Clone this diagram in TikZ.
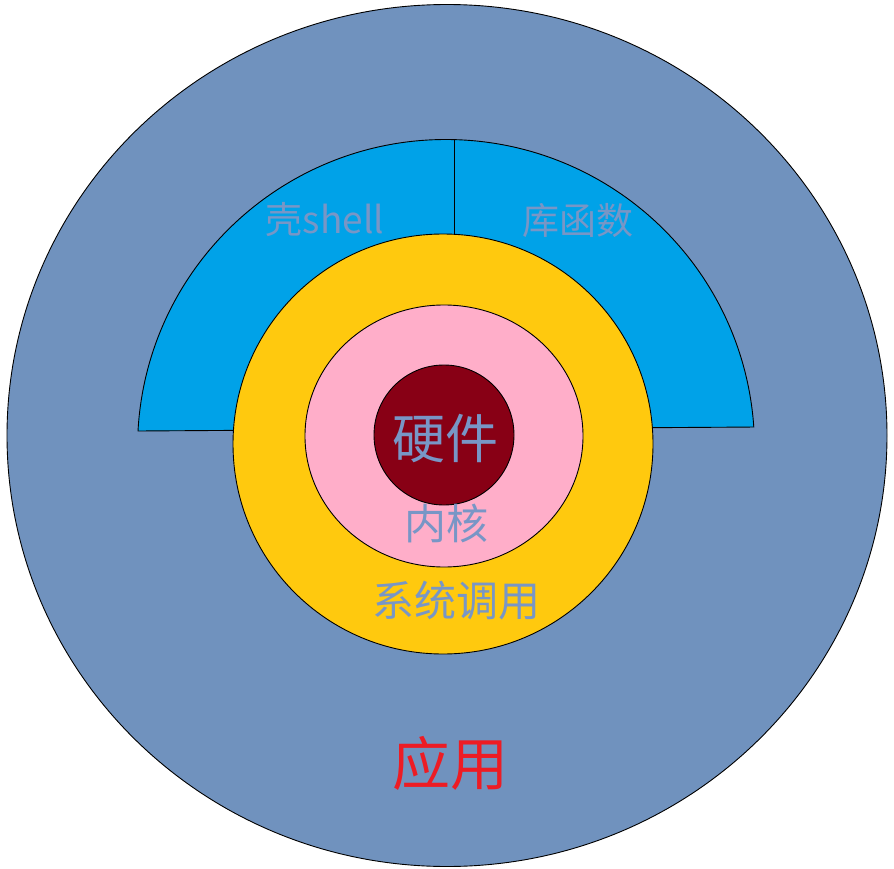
\documentclass[tikz,border=0pt]{standalone}
\usepackage{fontspec}
\newfontfamily\cjk{Noto Sans CJK SC}
\definecolor{outerblue}{HTML}{7092BE}
\definecolor{skyblue}{HTML}{00A2E8}
\definecolor{gold}{HTML}{FFC90E}
\definecolor{rosepink}{HTML}{FFAEC9}
\definecolor{darkred}{HTML}{880015}
\definecolor{textblue}{HTML}{7896C6}
\definecolor{redtext}{HTML}{ED1C24}
\tikzset{
  layer/.style={draw=black, line width=0.9pt},
  lbl/.style={font=\cjk, text=textblue, inner sep=0pt, anchor=center}
}
\begin{document}
\begin{tikzpicture}[x=1pt,y=-1pt]
\useasboundingbox (0,0) rectangle (894,869);
% outer application disc
\draw[layer, fill=outerblue] (447,435.5) ellipse [x radius=440, y radius=431];
% shell / library band
\draw[layer, fill=skyblue] (138,431) arc[start angle=183.16, end angle=356.1, radius=308.5] -- cycle;
\draw[layer] (454,140) -- (454,236);
% system call ring
\draw[layer, fill=gold] (443,444) circle [radius=210];
% kernel
\draw[layer, fill=rosepink] (444,436) ellipse [x radius=139, y radius=131];
% hardware
\draw[layer, fill=darkred] (444,435) circle [radius=70];
% labels
\node[lbl, font=\cjk\fontsize{53}{53}\selectfont] (hw) at (445,439) {硬件};
\node[lbl, font=\cjk\fontsize{42}{42}\selectfont] (kern) at (446,523) {内核};
\node[lbl, font=\cjk\fontsize{42}{42}\selectfont] (sys) at (456,601) {系统调用};
\node[lbl, font=\cjk\fontsize{37}{37}\selectfont] (shell) at (325,220) {壳shell};
\node[lbl, font=\cjk\fontsize{37}{37}\selectfont] (lib) at (578,221) {库函数};
\node[lbl, text=redtext, font=\cjk\fontsize{58}{58}\selectfont] (app) at (450,763) {应用};
\end{tikzpicture}
\end{document}
